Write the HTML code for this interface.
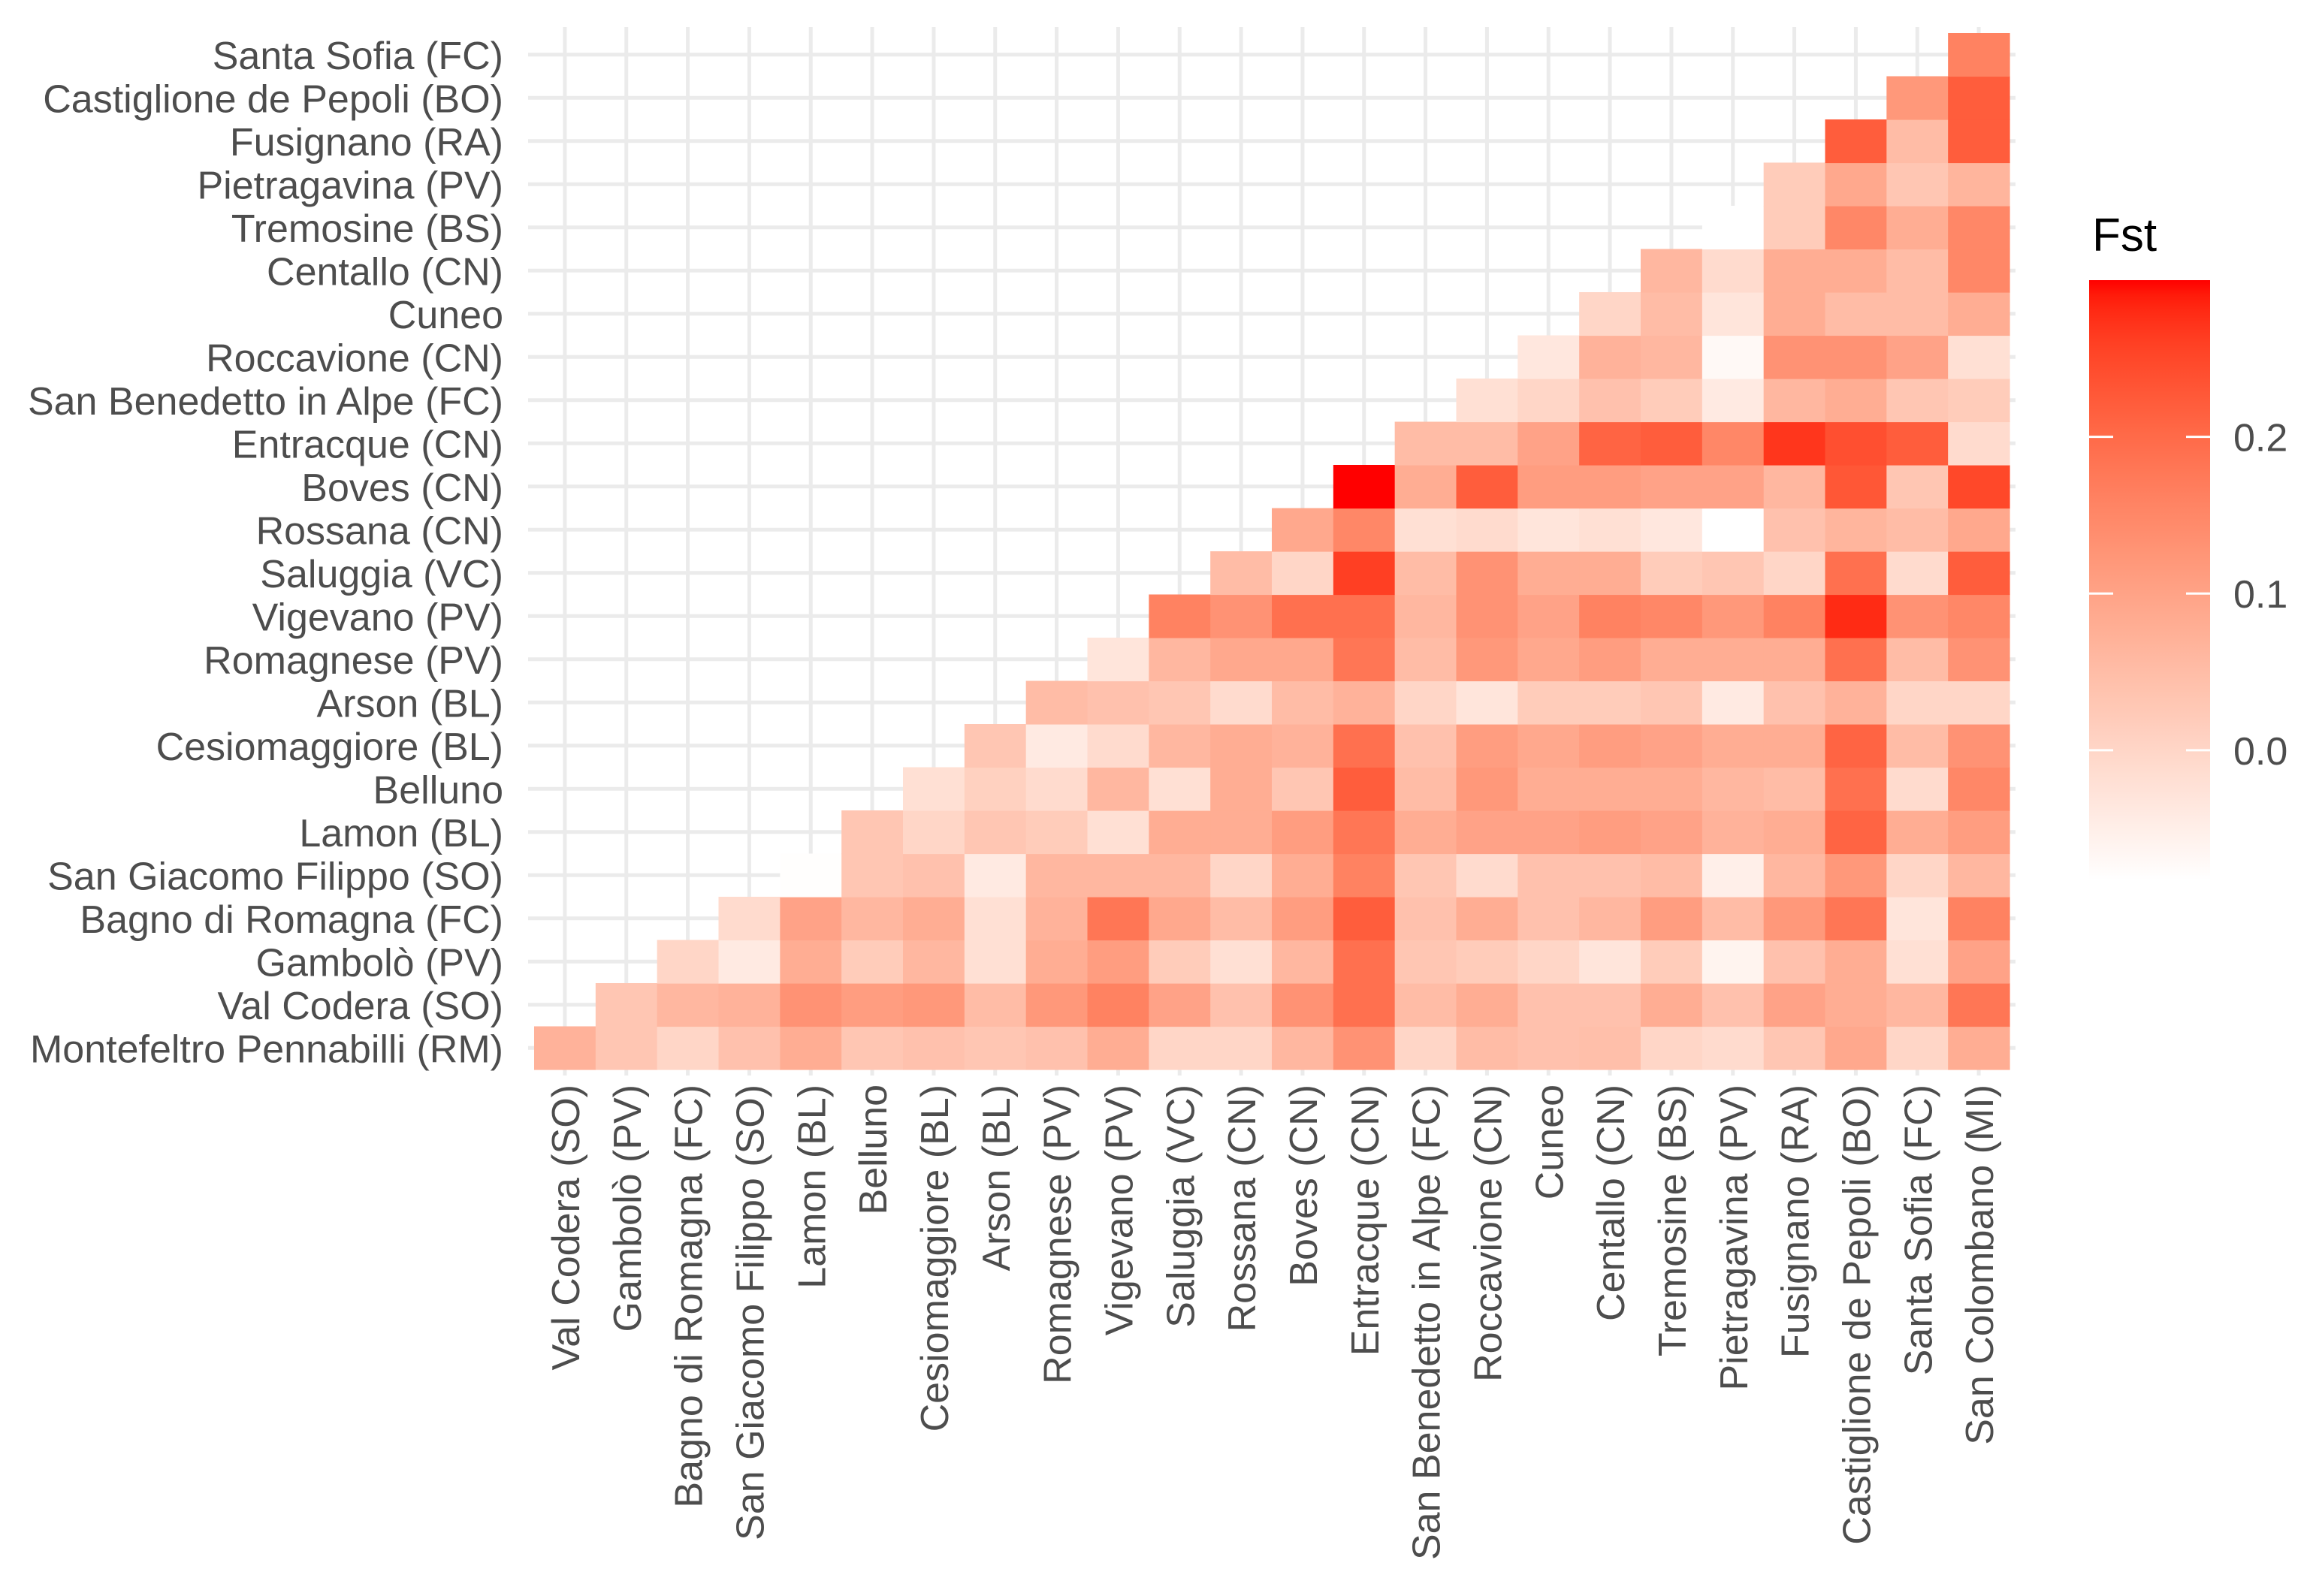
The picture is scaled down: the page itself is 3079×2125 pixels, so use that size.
<!DOCTYPE html>
<html><head><meta charset="utf-8">
<style>
html,body{margin:0;padding:0;background:#fff;}
svg{display:block;font-family:"Liberation Sans",Arial,sans-serif;}
</style></head>
<body>
<svg id="chart" width="3079" height="2125" viewBox="0 0 3079 2125" xmlns="http://www.w3.org/2000/svg">
<defs><linearGradient id="legGrad" x1="0" y1="1" x2="0" y2="0"></linearGradient></defs>
<g id="grid"></g>
<g id="tiles"></g>
<g id="ylabels"></g>
<g id="xlabels"></g>
<g id="legend">
<text x="2785" y="334" font-size="62" fill="#000">Fst</text>
<rect id="legBar" x="2781" y="373" width="161" height="799" fill="url(#legGrad)"/>
<g id="legTicks"></g>
</g>
</svg>
<script>
const rowLabels = ["Montefeltro Pennabilli (RM)","Val Codera (SO)","Gambolò (PV)","Bagno di Romagna (FC)","San Giacomo Filippo (SO)","Lamon (BL)","Belluno","Cesiomaggiore (BL)","Arson (BL)","Romagnese (PV)","Vigevano (PV)","Saluggia (VC)","Rossana (CN)","Boves (CN)","Entracque (CN)","San Benedetto in Alpe (FC)","Roccavione (CN)","Cuneo","Centallo (CN)","Tremosine (BS)","Pietragavina (PV)","Fusignano (RA)","Castiglione de Pepoli (BO)","Santa Sofia (FC)"];
const colLabels = ["Val Codera (SO)","Gambolò (PV)","Bagno di Romagna (FC)","San Giacomo Filippo (SO)","Lamon (BL)","Belluno","Cesiomaggiore (BL)","Arson (BL)","Romagnese (PV)","Vigevano (PV)","Saluggia (VC)","Rossana (CN)","Boves (CN)","Entracque (CN)","San Benedetto in Alpe (FC)","Roccavione (CN)","Cuneo","Centallo (CN)","Tremosine (BS)","Pietragavina (PV)","Fusignano (RA)","Castiglione de Pepoli (BO)","Santa Sofia (FC)","San Colombano (MI)"];
const legendTicks = [0.0, 0.1, 0.2];
const legendTickLabels = ["0.0","0.1","0.2"];
// Each row r holds Fst values for columns r..23
const fstMontefeltro = [0.07,0.03,0.00,0.04,0.08,0.03,0.04,0.03,0.04,0.08,0.00,0.00,0.06,0.13,0.00,0.05,0.04,0.045,0.00,-0.01,0.03,0.09,0.00,0.08];
const fstValCodera = [0.03,0.06,0.07,0.13,0.11,0.12,0.05,0.12,0.16,0.10,0.04,0.13,0.19,0.05,0.08,0.04,0.04,0.08,0.04,0.10,0.08,0.06,0.18];
const fstGambolo = [0.00,-0.04,0.08,0.02,0.06,-0.02,0.08,0.11,0.02,-0.02,0.06,0.19,0.03,0.02,0.00,-0.03,0.02,-0.06,0.04,0.08,-0.02,0.10];
const fstBagno = [-0.01,0.10,0.06,0.08,-0.02,0.07,0.18,0.09,0.05,0.11,0.22,0.04,0.08,0.04,0.06,0.11,0.05,0.12,0.18,-0.03,0.16];
const fstSanGiacomo = [-0.08,0.03,0.04,-0.04,0.06,0.06,0.06,0.00,0.08,0.16,0.03,-0.01,0.04,0.04,0.05,-0.05,0.06,0.12,0.00,0.06];
const fstLamon = [0.03,0.00,0.03,0.02,-0.02,0.08,0.08,0.11,0.18,0.08,0.10,0.10,0.11,0.10,0.07,0.08,0.21,0.08,0.11];
const fstBelluno = [-0.02,0.01,-0.01,0.06,-0.02,0.08,0.03,0.22,0.05,0.12,0.08,0.08,0.08,0.06,0.05,0.19,-0.01,0.15];
const fstCesiomaggiore = [0.03,-0.04,-0.01,0.06,0.08,0.07,0.19,0.04,0.11,0.09,0.11,0.10,0.08,0.08,0.21,0.05,0.13];
const fstArson = [0.05,0.04,0.03,-0.01,0.05,0.07,0.00,-0.03,0.02,0.02,0.03,-0.04,0.04,0.07,0.00,0.00];
const fstRomagnese = [-0.03,0.06,0.09,0.09,0.18,0.05,0.12,0.09,0.11,0.08,0.08,0.08,0.19,0.05,0.13];
const fstVigevano = [0.16,0.13,0.19,0.19,0.06,0.13,0.10,0.16,0.15,0.12,0.16,0.28,0.13,0.15];
const fstSaluggia = [0.05,0.00,0.26,0.05,0.13,0.08,0.08,0.02,0.03,0.00,0.19,-0.01,0.22];
const fstRossana = [0.09,0.15,-0.02,-0.01,-0.03,-0.02,-0.035,-0.083,0.04,0.065,0.05,0.09];
const fstBoves = [0.30,0.08,0.22,0.11,0.11,0.10,0.10,0.06,0.23,0.03,0.25];
const fstEntracque = [0.05,0.05,0.10,0.21,0.22,0.15,0.27,0.24,0.22,-0.01];
const fstSanBenedetto = [-0.02,0.00,0.04,0.02,-0.04,0.06,0.08,0.03,0.02];
const fstRoccavione = [-0.035,0.07,0.06,-0.07,0.13,0.13,0.10,-0.02];
const fstCuneo = [0.00,0.05,-0.03,0.08,0.05,0.05,0.08];
const fstCentallo = [0.06,-0.01,0.08,0.08,0.05,0.15];
const fstTremosine = [null,0.02,0.15,0.08,0.15];
const fstPietragavina = [0.02,0.09,0.03,0.065];
const fstFusignano = [0.22,0.05,0.22];
const fstCastiglione = [0.12,0.22];
const fstSantaSofia = [0.16];
const fstRows = [fstMontefeltro,fstValCodera,fstGambolo,fstBagno,fstSanGiacomo,fstLamon,fstBelluno,fstCesiomaggiore,fstArson,fstRomagnese,fstVigevano,fstSaluggia,fstRossana,fstBoves,fstEntracque,fstSanBenedetto,fstRoccavione,fstCuneo,fstCentallo,fstTremosine,fstPietragavina,fstFusignano,fstCastiglione,fstSantaSofia];

const NS = "http://www.w3.org/2000/svg";
const PL = 711, PR = 2675, PT = 44, PB = 1424;
const nC = colLabels.length, nR = rowLabels.length;
const cw = (PR - PL) / nC, rh = (PB - PT) / nR;
const xPos = c => PL + c * cw;
const yPos = r => PB - (r + 1) * rh;

let all = [];
fstRows.forEach(a => a.forEach(v => { if (v !== null) all.push(v); }));
const vmin = Math.min(...all), vmax = Math.max(...all);

function srgb2lin(c){c/=255;return c<=0.04045?c/12.92:Math.pow((c+0.055)/1.055,2.4);}
function lin2srgb(c){c=c<=0.0031308?12.92*c:1.055*Math.pow(c,1/2.4)-0.055;return Math.round(Math.max(0,Math.min(1,c))*255);}
function rgb2lab(r,g,b){r=srgb2lin(r);g=srgb2lin(g);b=srgb2lin(b);
 let X=(0.4124*r+0.3576*g+0.1805*b)/0.95047,Y=0.2126*r+0.7152*g+0.0722*b,Z=(0.0193*r+0.1192*g+0.9505*b)/1.08883;
 const f=t=>t>0.008856?Math.cbrt(t):7.787*t+16/116;
 return [116*f(Y)-16,500*(f(X)-f(Y)),200*(f(Y)-f(Z))];}
function lab2rgb(L,a,b){const fy=(L+16)/116,fx=fy+a/500,fz=fy-b/200;
 const fi=t=>t*t*t>0.008856?t*t*t:(t-16/116)/7.787;
 let X=fi(fx)*0.95047,Y=fi(fy),Z=fi(fz)*1.08883;
 const r=3.2406*X-1.5372*Y-0.4986*Z,g=-0.9689*X+1.8758*Y+0.0415*Z,bb=0.0557*X-0.2040*Y+1.0570*Z;
 return "rgb("+lin2srgb(r)+","+lin2srgb(g)+","+lin2srgb(bb)+")";}
const LW = rgb2lab(255,255,255), LR = rgb2lab(255,0,0);
function color(v){ if (v===null) return "#ffffff"; let t=(v-vmin)/(vmax-vmin); t=Math.max(0,Math.min(1,t));
 return lab2rgb(LW[0]+(LR[0]-LW[0])*t, LW[1]+(LR[1]-LW[1])*t, LW[2]+(LR[2]-LW[2])*t); }

const grid = document.getElementById("grid");
for (let c=0;c<nC;c++){ const l=document.createElementNS(NS,"line");
 l.setAttribute("x1",xPos(c)+cw/2); l.setAttribute("x2",xPos(c)+cw/2); l.setAttribute("y1",36); l.setAttribute("y2",1432);
 l.setAttribute("stroke","#EBEBEB"); l.setAttribute("stroke-width","5");
 
 
 grid.appendChild(l); }
for (let r=0;r<nR;r++){ const l=document.createElementNS(NS,"line");
 l.setAttribute("y1",yPos(r)+rh/2); l.setAttribute("y2",yPos(r)+rh/2); l.setAttribute("x1",703); l.setAttribute("x2",2683);
 l.setAttribute("stroke","#EBEBEB"); l.setAttribute("stroke-width","5");
 
 
 grid.appendChild(l); }

const tiles = document.getElementById("tiles");
fstRows.forEach((arr, r) => {
 arr.forEach((v, i) => { const c = r + i;
  const rc = document.createElementNS(NS,"rect");
  rc.setAttribute("x", xPos(c)); rc.setAttribute("y", yPos(r));
  rc.setAttribute("width", cw+0.6); rc.setAttribute("height", rh+0.6);
  rc.setAttribute("fill", color(v));
  
  
  tiles.appendChild(rc); });
});

const yl = document.getElementById("ylabels");
rowLabels.forEach((s, r) => { const t=document.createElementNS(NS,"text");
 t.setAttribute("x",670); t.setAttribute("y",yPos(r)+rh/2+19);
 t.setAttribute("text-anchor","end"); t.setAttribute("font-size","52"); t.setAttribute("fill","#4D4D4D");
 t.textContent = s;
 
 
 yl.appendChild(t); });

const xl = document.getElementById("xlabels");
colLabels.forEach((s, c) => { const t=document.createElementNS(NS,"text");
 const x = xPos(c)+cw/2+19, y = 1444;
 t.setAttribute("transform","translate("+x+","+y+") rotate(-90)");
 t.setAttribute("text-anchor","end"); t.setAttribute("font-size","52"); t.setAttribute("fill","#4D4D4D");
 t.textContent = s;
 
 
 xl.appendChild(t); });

const grad = document.getElementById("legGrad");
for (let i=0;i<=40;i++){ const st=document.createElementNS(NS,"stop");
 st.setAttribute("offset",(i/40)); st.setAttribute("stop-color",color(vmin+(vmax-vmin)*i/40)); grad.appendChild(st); }
const LT=373, LB=1172, LX=2781, LWd=161;
const ly = v => LB - (v - vmin)/(vmax - vmin)*(LB-LT);
const lt = document.getElementById("legTicks");
legendTicks.forEach((v,i) => { const y=ly(v);
 [[LX, LX+32],[LX+LWd-32, LX+LWd]].forEach(p => { const l=document.createElementNS(NS,"line");
  l.setAttribute("x1",p[0]); l.setAttribute("x2",p[1]); l.setAttribute("y1",y); l.setAttribute("y2",y);
  l.setAttribute("stroke","#fff"); l.setAttribute("stroke-width","3");
  
  
  lt.appendChild(l); });
 const t=document.createElementNS(NS,"text");
 t.setAttribute("x",2973); t.setAttribute("y",y+19); t.setAttribute("font-size","52"); t.setAttribute("fill","#4D4D4D");
 t.textContent = legendTickLabels[i];
 
 
 lt.appendChild(t); });
</script>
</body></html>
